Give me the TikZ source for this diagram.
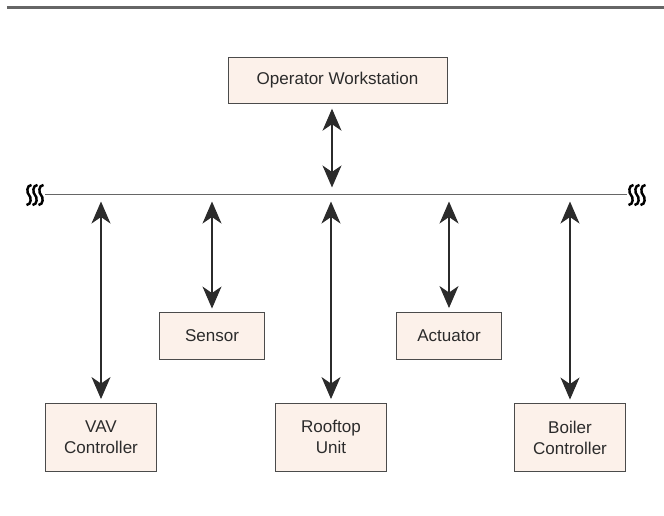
\documentclass[tikz,border=0pt]{standalone}
\usepackage{fontspec}
\setmainfont{Liberation Sans}
\usetikzlibrary{arrows.meta}
\definecolor{boxfill}{HTML}{FCF1EA}
\definecolor{ruleGray}{HTML}{666666}
\definecolor{inkGray}{HTML}{2B2B2B}

\begin{document}
\begin{tikzpicture}[
    x=0.02cm, y=-0.02cm,
    every node/.style={font=\fontsize{9.7}{12}\selectfont, text=inkGray},
    device/.style={rectangle, draw=inkGray!85, line width=0.5pt, fill=boxfill, align=center, inner sep=1pt},
    wide/.style={device, minimum width=4.38cm, minimum height=0.92cm},
    small/.style={device, minimum width=2.1cm, minimum height=0.94cm},
    tall/.style={device, minimum width=2.22cm, minimum height=1.36cm},
    link/.style={{Stealth[length=0.44cm, width=0.38cm, inset=0.13cm]}-{Stealth[length=0.44cm, width=0.38cm, inset=0.13cm]}, draw=inkGray, line width=0.6pt},
    bus/.style={draw=ruleGray, line width=1pt},
    squiggle/.style={draw=black, line width=1.4pt}
]
    \useasboundingbox (0,0) rectangle (664,516);

% -------------------------
% Top rule and bus
% -------------------------
    \draw[ruleGray, line width=1.5pt] (7,7.5) -- (664,7.5);
    \coordinate (busL) at (45,194.5);
    \coordinate (busR) at (627,194.5);
    \draw[bus] (busL) -- (busR);

    % break marks at both ends
    \foreach \sx in {29, 35, 41, 631, 637, 643} {
        \draw[squiggle] (\sx+2.5,185) .. controls (\sx-2.5,185) and (\sx-2.5,193) .. (\sx,195)
            .. controls (\sx+2.5,197) and (\sx+2.5,205) .. (\sx-2.5,205);
    }

% -------------------------
% Nodes
% -------------------------
    \node[wide] (ows) at (337.5,80) {Operator Workstation};
    \node[small] (sensor) at (212,336) {Sensor};
    \node[small] (actuator) at (449,335.5) {Actuator};
    \node[tall] (vav) at (101,437) {VAV\\Controller};
    \node[tall] (rooftop) at (331,437) {Rooftop\\Unit};
    \node[tall] (boiler) at (570,437.5) {Boiler\\Controller};

% -------------------------
% Arrows to the bus
% -------------------------
    \draw[link, shorten <=3pt, shorten >=4pt] (ows.south -| 332,0) -- (busL -| 332,0);
    \foreach \dev in {vav, sensor, rooftop, actuator, boiler} {
        \draw[link, shorten <=2pt, shorten >=4pt] (\dev.north) -- (\dev.north |- busL);
    }
\end{tikzpicture}
\end{document}
